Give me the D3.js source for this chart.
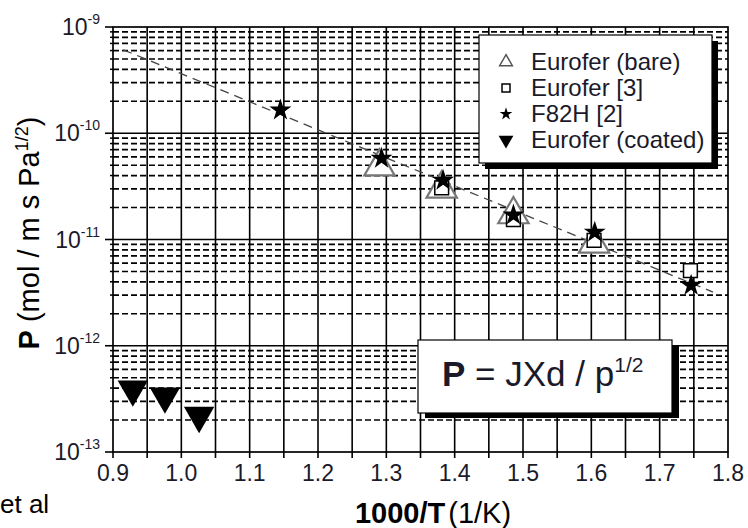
<!DOCTYPE html>
<html>
<head>
<meta charset="utf-8">
<script src="https://cdn.jsdelivr.net/npm/d3@7"></script>
<style>
    body { margin: 0; background: #fff; }
    svg { display: block; font-family: Arial, "Liberation Sans", sans-serif; }
</style>
</head>
<body>
<svg width="748" height="528"></svg>
<script>
// data
var bareX = [1.29, 1.381, 1.486, 1.604];
var bareY = [4.85e-11, 3.0e-11, 1.72e-11, 9.1e-12];

var refX = [1.381, 1.486, 1.604, 1.745];
var refY = [3.06e-11, 1.54e-11, 9.8e-12, 5.1e-12];

var f82X = [1.145, 1.293, 1.383, 1.486, 1.605, 1.746];
var f82Y = [1.65e-10, 5.8e-11, 3.6e-11, 1.7e-11, 1.17e-11, 3.7e-12];

var coatedX = [0.929, 0.976, 1.026];
var coatedY = [3.9e-13, 3.35e-13, 2.2e-13];

var fitX = [0.915, 1.778];
var fitY = [6.1e-10, 3.2e-12];

var xTicks = [0.9, 1.0, 1.1, 1.2, 1.3, 1.4, 1.5, 1.6, 1.7, 1.8];
var yDecades = [-13, -12, -11, -10, -9];
var legendLabels = ["Eurofer (bare)", "Eurofer [3]", "F82H [2]", "Eurofer (coated)"];

//setup the SVG canvas
var svg = d3.select("svg"),
    plotLeft = 113, plotRight = 728, plotTop = 27, plotBottom = 452;

var x = d3.scaleLinear().domain([0.9, 1.8]).range([plotLeft, plotRight]);
var y = d3.scaleLog().domain([1e-13, 1e-9]).range([plotBottom, plotTop]);

var grid = svg.append("g");

// vertical grid every 0.05
var vLines = d3.range(19).map(function (i) { return 0.9 + i * 0.05; });
grid.selectAll(".vline")
    .data(vLines.slice(1, -1))
    .enter().append("line")
    .attr("x1", function (d) { return x(d); })
    .attr("x2", function (d) { return x(d); })
    .attr("y1", plotTop).attr("y2", plotBottom)
    .attr("stroke", "#000").attr("stroke-width", 1.6);

// horizontal grid: dashed minors, solid decades
var minors = [];
yDecades.slice(0, -1).forEach(function (n) {
    for (var k = 2; k <= 9; k++) minors.push(k * Math.pow(10, n));
});

grid.selectAll(".hminor")
    .data(minors)
    .enter().append("line")
    .attr("x1", plotLeft).attr("x2", plotRight)
    .attr("y1", function (d) { return y(d); })
    .attr("y2", function (d) { return y(d); })
    .attr("stroke", "#000").attr("stroke-width", 1.7)
    .attr("stroke-dasharray", "6,3");

grid.selectAll(".hmajor")
    .data(yDecades.slice(1, -1))
    .enter().append("line")
    .attr("x1", plotLeft).attr("x2", plotRight)
    .attr("y1", function (d) { return y(Math.pow(10, d)); })
    .attr("y2", function (d) { return y(Math.pow(10, d)); })
    .attr("stroke", "#000").attr("stroke-width", 1.6);

// frame and outward ticks
svg.append("rect")
    .attr("x", plotLeft).attr("y", plotTop)
    .attr("width", plotRight - plotLeft).attr("height", plotBottom - plotTop)
    .attr("fill", "none").attr("stroke", "#000").attr("stroke-width", 1.7);

svg.selectAll(".xtick")
    .data(vLines)
    .enter().append("line")
    .attr("x1", function (d) { return x(d); })
    .attr("x2", function (d) { return x(d); })
    .attr("y1", plotBottom).attr("y2", plotBottom + 6)
    .attr("stroke", "#000").attr("stroke-width", 1.6);

svg.selectAll(".ytickminor")
    .data(minors)
    .enter().append("line")
    .attr("x1", plotLeft - 3).attr("x2", plotLeft)
    .attr("y1", function (d) { return y(d); })
    .attr("y2", function (d) { return y(d); })
    .attr("stroke", "#000").attr("stroke-width", 1.5);

svg.selectAll(".ytickmajor")
    .data(yDecades)
    .enter().append("line")
    .attr("x1", plotLeft - 8).attr("x2", plotLeft)
    .attr("y1", function (d) { return y(Math.pow(10, d)); })
    .attr("y2", function (d) { return y(Math.pow(10, d)); })
    .attr("stroke", "#000").attr("stroke-width", 1.6);

// tick labels
svg.selectAll(".xlabel")
    .data(xTicks)
    .enter().append("text")
    .attr("x", function (d) { return x(d); })
    .attr("y", plotBottom + 29)
    .attr("text-anchor", "middle")
    .attr("font-size", 23)
    .attr("fill", "#1a1a2a")
    .text(function (d) { return d.toFixed(1); });

var ylab = svg.selectAll(".ylabel")
    .data(yDecades)
    .enter().append("text")
    .attr("x", 100)
    .attr("y", function (d) { return y(Math.pow(10, d)) + 8; })
    .attr("text-anchor", "end")
    .attr("font-size", 23)
    .attr("fill", "#1a1a2a");
ylab.append("tspan").text("10");
ylab.append("tspan")
    .attr("dy", -11)
    .attr("font-size", 14)
    .text(function (d) { return d; });

// axis titles
var xt = svg.append("text")
    .attr("x", 433).attr("y", 523)
    .attr("text-anchor", "middle")
    .attr("font-size", 29);
xt.append("tspan").attr("font-weight", "bold").text("1000/T");
xt.append("tspan").attr("dx", 3).text("(1/K)");

var yt = svg.append("text")
    .attr("transform", "translate(39,233) rotate(-90)")
    .attr("text-anchor", "middle")
    .attr("font-size", 29);
yt.append("tspan").attr("font-weight", "bold").text("P");
yt.append("tspan").text(" (mol / m s Pa");
yt.append("tspan").attr("dy", -11).attr("font-size", 18).text("1/2");
yt.append("tspan").attr("dy", 11).text(")");

svg.append("text")
    .attr("x", 0).attr("y", 513)
    .attr("font-size", 26)
    .text("et al");

// fit line
var line = d3.line()
    .x(function (d) { return x(d[0]); })
    .y(function (d) { return y(d[1]); });

svg.append("path")
    .datum(d3.zip(fitX, fitY))
    .attr("d", line)
    .attr("fill", "none")
    .attr("stroke", "#444")
    .attr("stroke-width", 1.3)
    .attr("stroke-dasharray", "9,6");

// markers
var triUp = d3.symbol().type(d3.symbolTriangle).size(400);
var square = d3.symbol().type(d3.symbolSquare).size(190);
var star = d3.symbol().type(d3.symbolStar).size(150);

svg.selectAll(".bare")
    .data(d3.zip(bareX, bareY))
    .enter().append("path")
    .attr("d", triUp)
    .attr("transform", function (d) { return "translate(" + x(d[0]) + "," + y(d[1]) + ")"; })
    .attr("fill", "#fff").attr("stroke", "#777").attr("stroke-width", 2.2);

svg.selectAll(".ref")
    .data(d3.zip(refX, refY))
    .enter().append("path")
    .attr("d", square)
    .attr("transform", function (d) { return "translate(" + x(d[0]) + "," + y(d[1]) + ")"; })
    .attr("fill", "#fff").attr("stroke", "#000").attr("stroke-width", 1.5);

svg.selectAll(".f82")
    .data(d3.zip(f82X, f82Y))
    .enter().append("path")
    .attr("d", star)
    .attr("transform", function (d) { return "translate(" + x(d[0]) + "," + y(d[1]) + ")"; })
    .attr("fill", "#000");

svg.selectAll(".coated")
    .data(d3.zip(coatedX, coatedY))
    .enter().append("path")
    .attr("d", triUp)
    .attr("transform", function (d) { return "translate(" + x(d[0]) + "," + y(d[1]) + ") rotate(180)"; })
    .attr("fill", "#000");

// legend box with drop shadow
var legend = svg.append("g").attr("transform", "translate(479,35)");
legend.append("rect").attr("x", 6).attr("y", 6).attr("width", 233).attr("height", 128).attr("fill", "#000");
legend.append("rect").attr("width", 233).attr("height", 128)
    .attr("fill", "#fff").attr("stroke", "#000").attr("stroke-width", 1.2);

var legendSymbols = [
    { d: d3.symbol().type(d3.symbolTriangle).size(70)(), fill: "#fff", stroke: "#555", rot: 0 },
    { d: d3.symbol().type(d3.symbolSquare).size(64)(), fill: "#fff", stroke: "#000", rot: 0 },
    { d: d3.symbol().type(d3.symbolStar).size(50)(), fill: "#000", stroke: "none", rot: 0 },
    { d: d3.symbol().type(d3.symbolTriangle).size(95)(), fill: "#000", stroke: "none", rot: 180 }
];

var rows = legend.selectAll(".row")
    .data(legendLabels)
    .enter().append("g")
    .attr("transform", function (d, i) { return "translate(0," + (27 + i * 26) + ")"; });

rows.append("path")
    .attr("d", function (d, i) { return legendSymbols[i].d; })
    .attr("transform", function (d, i) { return "translate(27,0) rotate(" + legendSymbols[i].rot + ")"; })
    .attr("fill", function (d, i) { return legendSymbols[i].fill; })
    .attr("stroke", function (d, i) { return legendSymbols[i].stroke; })
    .attr("stroke-width", 1.5);

rows.append("text")
    .attr("x", 52).attr("y", 8)
    .attr("font-size", 24)
    .attr("fill", "#1a1a2a")
    .text(function (d) { return d; });

// formula box
var formula = svg.append("g").attr("transform", "translate(418,340)");
formula.append("rect").attr("x", 7).attr("y", 5).attr("width", 254).attr("height", 73).attr("fill", "#000");
formula.append("rect").attr("width", 254).attr("height", 73)
    .attr("fill", "#fff").attr("stroke", "#000").attr("stroke-width", 1.2);

var ft = formula.append("text")
    .attr("x", 24).attr("y", 46)
    .attr("font-size", 35)
    .attr("fill", "#1a1a2a");
ft.append("tspan").attr("font-weight", "bold").text("P");
ft.append("tspan").text(" = JXd / p");
ft.append("tspan").attr("dy", -14).attr("font-size", 21).text("1/2");
</script>
</body>
</html>
